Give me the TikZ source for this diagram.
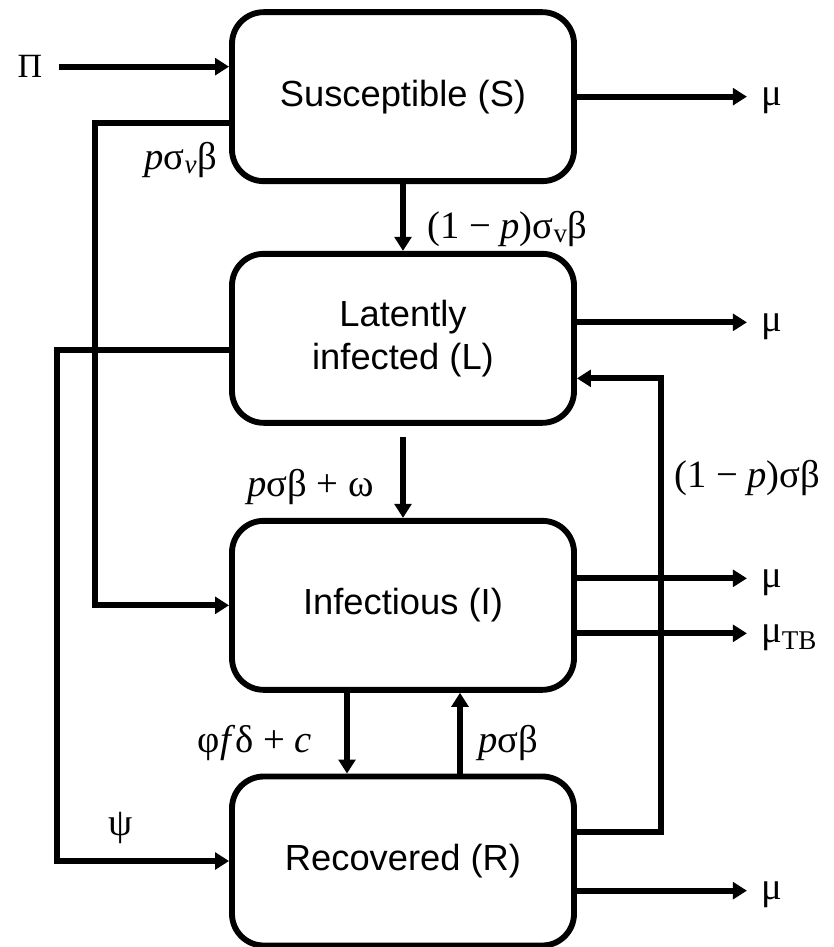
\documentclass[tikz,border=0pt]{standalone}
\usepackage{fontspec}
\setmainfont{Liberation Sans}
\newfontfamily\tms{Liberation Serif}
\usetikzlibrary{arrows.meta,positioning}

\begin{document}
\begin{tikzpicture}[node distance=7.25cm,on grid,
        box/.style={draw,line width=5pt,rounded corners=0.95cm,minimum width=10.26cm,minimum height=5.07cm,align=center,font=\fontsize{31}{37}\selectfont},
        flow/.style={-{Triangle[length=0.42cm,width=0.5cm]},line width=5pt},
        rate/.style={font=\tms\fontsize{33}{36}\selectfont,inner sep=0pt},
        sink/.style={rate,anchor=west,inner xsep=0.42cm,text depth=0pt}]
    \useasboundingbox (0,0) rectangle (24.99,-28.41);
    % compartments
    \node[box] (S) at (12.09,-2.9) {Susceptible (S)};
    \node[box] [below=of S] (L) {Latently\\infected (L)};
    \node[box] [below=8.01cm of L] (I) {Infectious (I)};
    \node[box] [below=7.67cm of I] (R) {Recovered (R)};
    % recruitment and deaths
    \node[rate,font=\tms\fontsize{29}{34}\selectfont] (Pi) at (0.9,-2.0) {Π};
    \node[sink] (muS) at ([xshift=5.1cm]S.east) {μ};
    \node[sink] (muL) at ([xshift=5.1cm,yshift=0.48cm]L.east) {μ};
    \node[sink] (muI) at ([xshift=5.1cm,yshift=0.81cm]I.east) {μ};
    \node[sink] (muTB) at ([xshift=5.1cm,yshift=-0.84cm]I.east) {μ\textsubscript{TB}};
    \node[sink] (muR) at ([xshift=5.1cm,yshift=-0.89cm]R.east) {μ};
    \draw[flow] ([xshift=0.48cm]Pi.east) -- (Pi -| S.west);
    \draw[flow] (S.east) -- (muS.west);
    \draw[flow] ([yshift=0.48cm]L.east) -- (muL.west);
    \draw[flow] ([yshift=0.81cm]I.east) -- (muI.west);
    \draw[flow] ([yshift=-0.84cm]I.east) -- (muTB.west);
    \draw[flow] ([yshift=-0.89cm]R.east) -- (muR.west);
    % transitions
    \draw[flow] (S) -- (L);
    \draw[flow] ([yshift=-0.33cm]L.south) -- (I);
    \draw[flow] ([xshift=-1.68cm]I.south) -- ([xshift=-1.68cm]R.north);
    \draw[flow] ([xshift=1.71cm]R.north) -- ([xshift=1.71cm]I.south);
    \draw[flow] ([yshift=-0.8cm]S.west) -- ++(-4.02cm,0) |- (I.west);
    \draw[flow] ([yshift=-0.36cm]L.west) -- ++(-5.16cm,0) |- (R.west);
    \draw[flow] ([yshift=0.86cm]R.east) -- ++(2.52cm,0) |- ([yshift=-1.2cm]L.east);
    % rates
    \node[rate,anchor=east] (rSI) at ([xshift=-0.36cm,yshift=-1.9cm]S.west) {\textit{p}σ\textsubscript{\textit{v}}β};
    \node[rate,anchor=west] (rSL) at ([xshift=0.72cm,yshift=-1.35cm]S.south) {(1 − \textit{p})σ\textsubscript{v}β};
    \node[rate,anchor=east] (rLI) at ([xshift=-0.87cm,yshift=-1.83cm]L.south) {\textit{p}σβ + ω};
    \node[rate,anchor=west] (rRL) at ([xshift=2.91cm,yshift=-4.2cm]L.east) {(1 − \textit{p})σβ};
    \node[rate,anchor=east] (rIR) at ([xshift=-2.73cm,yshift=-1.5cm]I.south) {φ\textit{f}δ + \textit{c}};
    \node[rate,anchor=west] (rRI) at ([xshift=2.25cm,yshift=-1.5cm]I.south) {\textit{p}σβ};
    \node[rate] (rLR) at ([xshift=-3.24cm,yshift=1.0cm]R.west) {ψ};
\end{tikzpicture}
\end{document}
